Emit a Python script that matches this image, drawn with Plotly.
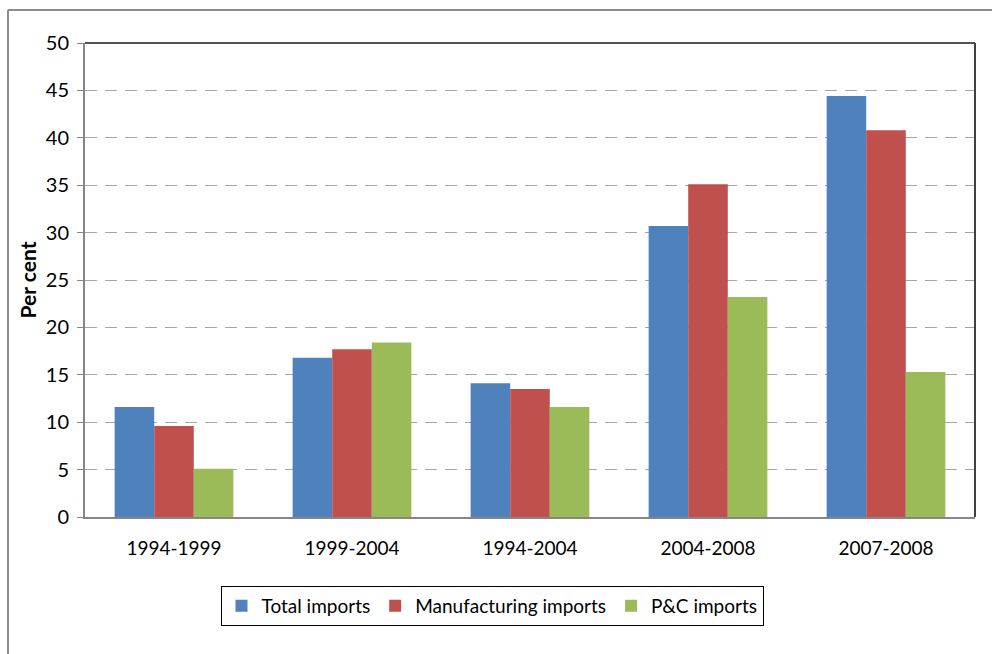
import plotly.graph_objects as go

# Import growth by period, per cent
periods = ["1994-1999", "1999-2004", "1994-2004", "2004-2008", "2007-2008"]
total_imports = [11.6, 16.8, 14.1, 30.7, 44.4]
manufacturing_imports = [9.6, 17.7, 13.5, 35.1, 40.8]
pc_imports = [5.1, 18.4, 11.6, 23.2, 15.3]

series = [
    ("Total imports", total_imports, "#4f81bd"),
    ("Manufacturing imports", manufacturing_imports, "#c0504d"),
    ("P&C imports", pc_imports, "#9bbb59"),
]

FONT = "Lato, Carlito, Calibri, sans-serif"

fig = go.Figure()
for name, vals, color in series:
    fig.add_trace(go.Bar(
        x=periods, y=vals, name=name,
        marker=dict(color=color, line=dict(width=0)),
    ))

W, H = 992, 654
L, R, T, B = 85, 17, 43, 137
pw, ph = W - L - R, H - T - B


def px(x):
    return (x - L) / pw


def py(y):
    return (H - B - y) / ph


fig.update_layout(
    width=W, height=H,
    margin=dict(l=L, r=R, t=T, b=B, pad=0),
    paper_bgcolor="white", plot_bgcolor="white",
    barmode="group", bargap=0.333, bargroupgap=0,
    font=dict(family=FONT, size=19, color="#000000"),
    showlegend=True,
    legend=dict(
        orientation="h",
        xref="container", yref="container",
        x=492 / W, xanchor="center",
        y=1 - 586 / H, yanchor="top",
        bordercolor="#000000", borderwidth=1,
        font=dict(family=FONT, size=19, color="#000000"),
        itemwidth=30, tracegroupgap=0,
    ),
    xaxis=dict(
        showline=True, linecolor="#868686", linewidth=2,
        ticks="", showgrid=False,
        tickfont=dict(family=FONT, size=19),
        ticklabelstandoff=13,
    ),
    yaxis=dict(
        range=[0, 50], dtick=5,
        showline=True, linecolor="#868686", linewidth=2,
        ticks="outside", ticklen=6, tickcolor="#868686", tickwidth=1,
        showgrid=True, gridcolor="#a6a6a6", gridwidth=1, griddash="12px,8px",
        zeroline=False,
        tickfont=dict(family=FONT, size=20),
        ticklabelstandoff=4,
        title=dict(text="<b>Per cent</b>", font=dict(family=FONT, size=21), standoff=3),
    ),
    shapes=[
        # plot frame: top and right edges
        dict(type="line", xref="paper", yref="paper", x0=0, x1=1, y0=1, y1=1,
             line=dict(color="#1a1a1a", width=1.5)),
        dict(type="line", xref="paper", yref="paper", x0=1, x1=1, y0=0, y1=1,
             line=dict(color="#404040", width=2)),
        # outer chart border
        dict(type="line", xref="paper", yref="paper", x0=px(8), x1=px(W + 5),
             y0=py(10), y1=py(10), line=dict(color="#8c8c8c", width=2)),
        dict(type="line", xref="paper", yref="paper", x0=px(8), x1=px(8),
             y0=py(10), y1=py(H + 5), line=dict(color="#8c8c8c", width=2)),
    ],
)

fig.write_html("out.html")
